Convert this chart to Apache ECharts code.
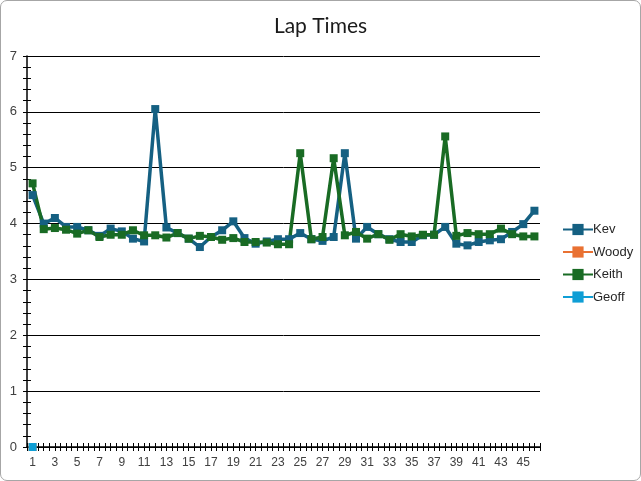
<!DOCTYPE html>
<html>
<head>
<meta charset="utf-8">
<script src="https://cdn.jsdelivr.net/npm/echarts@6/dist/echarts.min.js"></script>
<style>
html,body{margin:0;padding:0;background:#fff;}
#chart{position:absolute;left:0;top:0;width:641px;height:481px;}
#frame{position:absolute;left:0;top:0;width:639px;height:479px;border:1px solid #a6a6a6;border-radius:7px;pointer-events:none;}
</style>
</head>
<body>
<div id="chart"></div>
<div id="frame"></div>
<script>
const laps = [];
for (let i = 1; i <= 46; i++) laps.push(String(i));

const kev = [4.51,4.00,4.10,3.94,3.94,3.88,3.78,3.91,3.86,3.73,3.68,6.05,3.93,3.83,3.73,3.58,3.76,3.88,4.04,3.74,3.64,3.68,3.72,3.72,3.83,3.72,3.69,3.76,5.26,3.73,3.94,3.81,3.72,3.67,3.67,3.79,3.80,3.94,3.64,3.61,3.67,3.70,3.72,3.85,3.99,4.23];
const woody = [0];
const keith = [4.72,3.90,3.92,3.89,3.82,3.88,3.76,3.80,3.80,3.88,3.79,3.79,3.75,3.83,3.73,3.78,3.76,3.71,3.74,3.67,3.67,3.66,3.63,3.63,5.26,3.72,3.76,5.17,3.79,3.85,3.73,3.81,3.71,3.81,3.77,3.80,3.80,5.56,3.78,3.83,3.81,3.81,3.91,3.81,3.77,3.77];
const geoff = [0];

const names = ['Kev','Woody','Keith','Geoff'];
const colors = ['#156082','#E97132','#196B24','#0F9ED5'];
const values = [kev, woody, keith, geoff];

const tickCats = [];
for (let i = 0; i < laps.length * 2; i++) tickCats.push('t' + i);

const font = 'Liberation Sans, Arial, sans-serif';
const chart = echarts.init(document.getElementById('chart'));
chart.setOption({
  animation: false,
  title: {
    text: 'Lap Times', left: 'center', top: 11,
    textStyle: {fontFamily: 'Lato, sans-serif', fontSize: 21, fontWeight: 'normal', color: '#1a1a1a'}
  },
  legend: {
    orient: 'vertical', left: 557, top: 218, itemGap: 9.5,
    itemWidth: 30, itemHeight: 14,
    textStyle: {fontFamily: font, fontSize: 13, color: '#262626', padding: [0,0,0,-5]},
    data: names
  },
  grid: {left: 27, right: 101, top: 56, bottom: 34},
  xAxis: [
    {
      type: 'category', data: laps, boundaryGap: true,
      axisLine: {lineStyle: {color: '#000', width: 1.5}},
      axisTick: {show: false},
      axisLabel: {interval: 1, color: '#404040', fontFamily: font, fontSize: 12, margin: 10}
    },
    {
      type: 'category', data: tickCats, boundaryGap: true, position: 'bottom', offset: -4,
      axisLine: {show: false},
      axisTick: {show: true, interval: 0, length: 8, lineStyle: {color: '#000', width: 1}},
      axisLabel: {show: false}
    }
  ],
  yAxis: [
    {
      type: 'value', min: 0, max: 7, interval: 1,
      axisLine: {show: true, lineStyle: {color: '#000', width: 1.5}},
      axisTick: {show: false},
      splitLine: {lineStyle: {color: '#000', width: 1}},
      axisLabel: {color: '#404040', fontFamily: font, fontSize: 13, margin: 10}
    },
    {
      type: 'value', min: 0, max: 7, interval: 1, position: 'left', offset: -4,
      axisLine: {show: false},
      axisTick: {show: true, length: 8, lineStyle: {color: '#000', width: 1}},
      minorTick: {show: true, splitNumber: 5, length: 8, lineStyle: {color: '#000', width: 1}},
      splitLine: {show: false},
      axisLabel: {show: false}
    }
  ],
  series: names.map((n, i) => ({
    name: n, type: 'line', data: values[i],
    xAxisIndex: 0, yAxisIndex: 0,
    symbol: 'rect', symbolSize: 8, showAllSymbol: true,
    lineStyle: {color: colors[i], width: 3.5},
    itemStyle: {color: colors[i]},
    z: i === 3 ? 5 : 2
  }))
});
</script>
</body>
</html>
